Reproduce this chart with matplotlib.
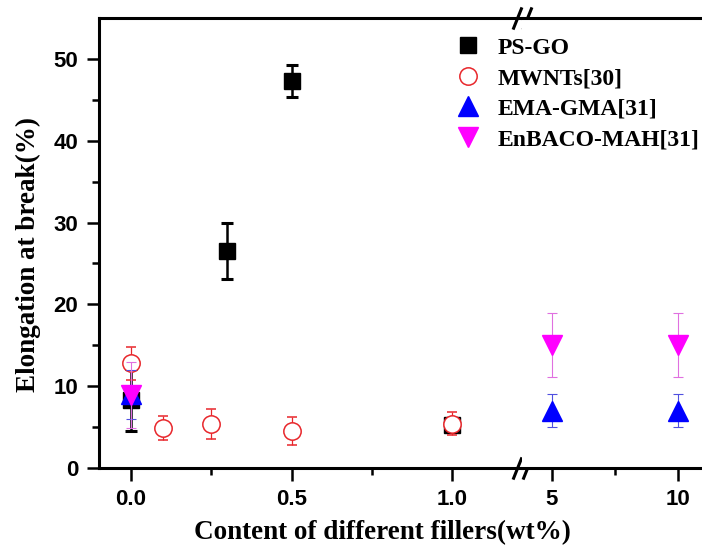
import numpy as np
import matplotlib
matplotlib.use("Agg")
import matplotlib.pyplot as plt
from matplotlib.transforms import ScaledTranslation

# data
psgo_x = [0.0, 0.3, 0.5, 1.0]
psgo_y = [8.3, 26.5, 47.3, 5.3]
psgo_err = [3.8, 3.4, 1.9, 0.7]

mwnt_x = [0.0, 0.1, 0.25, 0.5, 1.0]
mwnt_y = [12.8, 4.9, 5.4, 4.5, 5.4]
mwnt_err = [2.0, 1.5, 1.8, 1.7, 1.4]

ema_x = [0.0, 5.0, 10.0]
ema_y = [9.0, 7.0, 7.0]
ema_err = [3.0, 2.0, 2.0]

enb_x = [0.0, 5.0, 10.0]
enb_y = [8.9, 15.0, 15.0]
enb_err = [4.0, 3.9, 3.9]

labels = ["PS-GO", "MWNTs[30]", "EMA-GMA[31]", "EnBACO-MAH[31]"]
left_ticks = [0.0, 0.5, 1.0]
left_ticklabels = ["0.0", "0.5", "1.0"]
right_ticks = [5, 10]
right_ticklabels = ["5", "10"]

W, H = 702, 552
fig = plt.figure(figsize=(W / 100, H / 100), dpi=100)

x_left, x_break, x_right = 99, 522, 702
y_bot, y_top = 468, 18
ax1 = fig.add_axes([x_left / W, 1 - y_bot / H, (x_break - x_left) / W, (y_bot - y_top) / H])
ax2 = fig.add_axes([x_break / W, 1 - y_bot / H, (x_right - x_break) / W, (y_bot - y_top) / H], sharey=ax1)

tick_font = dict(family="Liberation Sans", weight="bold", size=16)
label_font = dict(family="Liberation Serif", weight="bold", size=19.5)

series = [
    (psgo_x, psgo_y, psgo_err, dict(fmt="s", color="black", ms=11.5, mfc="black", mec="black",
                                     elinewidth=1.8, capsize=4, capthick=2.2)),
    (mwnt_x, mwnt_y, mwnt_err, dict(fmt="o", color="#e8262b", ms=12.5, mfc="white", mec="#e8262b",
                                     mew=1.1, elinewidth=0.9, capsize=3.5, capthick=0.9)),
    (ema_x, ema_y, ema_err, dict(fmt="^", color="#0000ff", ms=15, mfc="#0000ff", mec="#0000ff",
                                   elinewidth=0.8, capsize=3.5, capthick=0.8, ecolor="#5050e0")),
    (enb_x, enb_y, enb_err, dict(fmt="v", color="#ff00ff", ms=15, mfc="#ff00ff", mec="#ff00ff",
                                   elinewidth=0.8, capsize=3.5, capthick=0.8, ecolor="#e070e0")),
]

handles = []
for ax in (ax1, ax2):
    for i, (x, y, e, kw) in enumerate(series):
        c = ax.errorbar(x, y, yerr=e, zorder=3 + i, **kw)
        if ax is ax1:
            handles.append(c[0])

ax1.set_xlim(-0.0994, 1.2174)
ax2.set_xlim(3.81, 10.95)
ax1.set_ylim(0, 55)

ax1.set_yticks([0, 10, 20, 30, 40, 50])
ax1.set_yticks([5, 15, 25, 35, 45], minor=True)
ax1.set_xticks(left_ticks)
ax1.set_xticklabels(left_ticklabels)
ax1.set_xticks([0.25, 0.75], minor=True)
ax2.set_xticks(right_ticks)
ax2.set_xticklabels(right_ticklabels)
ax2.set_xticks([7.5], minor=True)

for ax in (ax1, ax2):
    for s in ax.spines.values():
        s.set_linewidth(2.2)
    ax.spines["right"].set_visible(False)
    ax.tick_params(which="major", direction="out", length=9, width=1.8, pad=6)
    ax.tick_params(which="minor", direction="out", length=5, width=1.8)
    for lab in ax.get_xticklabels() + ax.get_yticklabels():
        lab.set(**tick_font)

ax2.spines["left"].set_visible(False)
ax2.tick_params(axis="y", which="both", left=False, labelleft=False)

ax1.set_xlabel("Content of different fillers(wt%)", **label_font)
ax1.xaxis.set_label_coords((382 - x_left) / (x_break - x_left), -(533 - y_bot) / (y_bot - y_top))
ax1.xaxis.label.set_va("center")
ax1.set_ylabel("Elongation at break(%)", **label_font)
ax1.yaxis.set_label_coords(-(x_left - 28) / (x_break - x_left), (y_bot - 254) / (y_bot - y_top))
ax1.yaxis.label.set_va("center")

# break marks on both horizontal spines
for yy in (0, 1):
    for off in (-5, 5):
        tr = ax1.transAxes + ScaledTranslation(off / 100, 0, fig.dpi_scale_trans)
        ax1.plot([1], [yy], transform=tr, marker=[(-1, -2.5), (1, 2.5)], ms=16,
                 mew=2.2, color="black", clip_on=False, zorder=10)

fig.legend(handles, labels, loc="upper left", bbox_to_anchor=(454 / W, 1 - 37 / H),
           frameon=False, prop=dict(family="Liberation Serif", weight="bold", size=17),
           handletextpad=0.66, labelspacing=0.38, handlelength=1.2, borderaxespad=0, borderpad=0)

fig.savefig("out.png", dpi=100)
